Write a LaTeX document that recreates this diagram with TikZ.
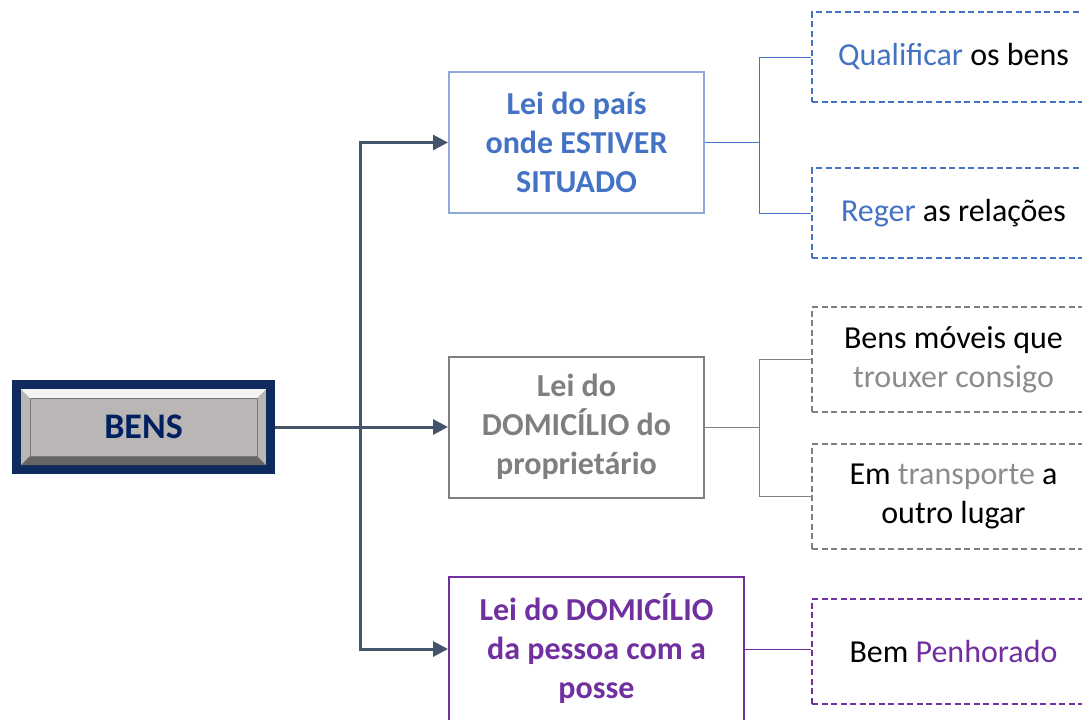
\documentclass[tikz,border=0pt]{standalone}
\usepackage{fontspec}
\setmainfont{Carlito}
\usetikzlibrary{arrows.meta}

\definecolor{leiblue}{HTML}{4472C4}
\definecolor{leiblueline}{HTML}{8EAADB}
\definecolor{leigray}{HTML}{7F7F7F}
\definecolor{leilight}{HTML}{8C8C8C}
\definecolor{leipurple}{HTML}{7030A0}
\definecolor{bensnavy}{HTML}{0F2B5E}
\definecolor{bensgray}{HTML}{BAB6B6}
\definecolor{bensink}{HTML}{002060}
\definecolor{trunkslate}{HTML}{44546A}

\tikzset{
  leibox/.style={draw, line width=2pt, fill=white, align=center, font=\fontsize{32}{39}\selectfont\bfseries},
  casebox/.style={draw, dashed, dash pattern=on 6pt off 3.5pt, line width=2pt, align=center,
    minimum width=283, font=\fontsize{32}{39}\selectfont},
  trunk/.style={draw=trunkslate, line width=3pt, -{Triangle[length=15pt,width=15pt]}},
  branch/.style={line width=1pt}
}

\begin{document}
\begin{tikzpicture}[x=1pt,y=-1pt]
  \useasboundingbox (0,0) rectangle (1082,720);

  \node[fill=bensnavy, minimum width=263, minimum height=94, text=bensink,
        font=\fontsize{36}{40}\selectfont\bfseries,
        path picture={
          \fill[bensgray] ([shift={(9,9)}]path picture bounding box.north west)
            rectangle ([shift={(-9,-9)}]path picture bounding box.south east);
          \fill[white!85!bensgray] ([shift={(9,9)}]path picture bounding box.north west)
            -- ([shift={(-9,9)}]path picture bounding box.north east)
            -- ([shift={(-18,18)}]path picture bounding box.north east)
            -- ([shift={(18,18)}]path picture bounding box.north west) -- cycle;
          \fill[black!45!bensgray] ([shift={(9,-9)}]path picture bounding box.south west)
            -- ([shift={(-9,-9)}]path picture bounding box.south east)
            -- ([shift={(-18,-18)}]path picture bounding box.south east)
            -- ([shift={(18,-18)}]path picture bounding box.south west) -- cycle;
          \filldraw[fill=bensgray, draw=black!35!bensgray, line width=1pt]
            ([shift={(18,18)}]path picture bounding box.north west)
            rectangle ([shift={(-18,-18)}]path picture bounding box.south east);
        }] (bens) at (143.5,427) {BENS};

  \begin{scope}[every node/.append style={minimum width=255, minimum height=141}]
    \node[leibox, draw=leiblueline, text=leiblue] (situado) at (576.5,142.5)
      {Lei do país\\onde ESTIVER\\SITUADO};
    \node[leibox, draw=leigray, text=leigray] (domprop) at (576.5,427)
      {Lei do\\DOMICÍLIO do\\proprietário};
  \end{scope}
  \node[leibox, draw=leipurple, text=leipurple, minimum width=295, minimum height=144]
    (posse) at (596.5,649) {Lei do DOMICÍLIO\\da pessoa com a\\posse};

  \node[casebox, draw=leiblue, minimum height=90] (qualif) at (953.5,57)
    {\textcolor{leiblue}{Qualificar} os bens};
  \node[casebox, draw=leiblue, minimum height=90] (reger) at (953.5,213)
    {\textcolor{leiblue}{Reger} as relações};
  \node[casebox, draw=leigray, minimum height=105] (moveis) at (953.5,359.5)
    {Bens móveis que\\\textcolor{leilight}{trouxer consigo}};
  \node[casebox, draw=leigray, minimum height=105] (transp) at (953.5,496.5)
    {Em \textcolor{leilight}{transporte} a\\outro lugar};
  \node[casebox, draw=leipurple, minimum height=105] (penhor) at (953.5,651.5)
    {Bem \textcolor{leipurple}{Penhorado}};

  \draw[trunk] (bens.east) -- (domprop.west);
  \draw[trunk] ([xshift=85]bens.east) |- (situado.west);
  \draw[trunk] ([xshift=85]bens.east) |- (posse.west);

  \draw[branch, leiblue] (situado.east) -- ++(54,0) |- (qualif.west);
  \draw[branch, leiblue] (situado.east) -- ++(54,0) |- (reger.west);
  \draw[branch, leigray] (domprop.east) -- ++(54,0) |- (moveis.west);
  \draw[branch, leigray] (domprop.east) -- ++(54,0) |- (transp.west);
  \draw[branch, leipurple] (posse.east) -- (posse.east -| penhor.west);
\end{tikzpicture}
\end{document}
